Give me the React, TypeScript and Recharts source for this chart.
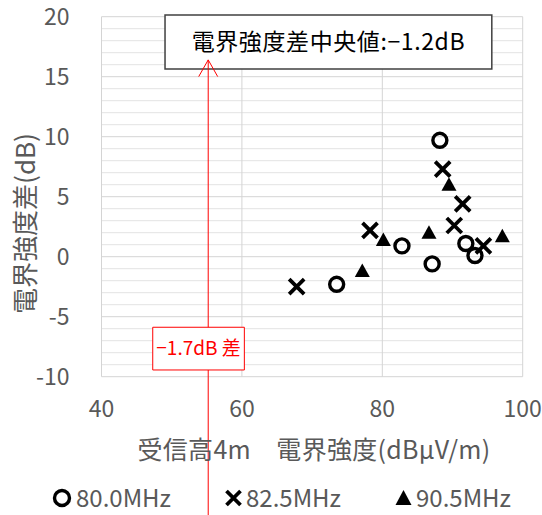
import React from 'react';
import {
  ScatterChart,
  Scatter,
  XAxis,
  YAxis,
  CartesianGrid,
  ReferenceArea,
  Legend,
  Label,
} from 'recharts';

// ---- data ----
const xTicks = [40, 60, 80, 100];
const yTicks = [-10, -5, 0, 5, 10, 15, 20];
const yMinorTicks = [
  -9, -8, -7, -6, -4, -3, -2, -1, 1, 2, 3, 4, 6, 7, 8, 9,
  11, 12, 13, 14, 16, 17, 18, 19,
];

const seriesNames = ['80.0MHz', '82.5MHz', '90.5MHz'];

const s800x = [88.2, 82.8, 87.1, 73.5, 91.9, 93.2];
const s800y = [9.7, 0.9, -0.6, -2.3, 1.1, 0.1];

const s825x = [88.6, 91.45, 90.25, 78.25, 67.8, 94.4];
const s825y = [7.3, 4.4, 2.6, 2.2, -2.5, 0.9];

const s905x = [89.5, 80.15, 86.65, 77.15, 97.1];
const s905y = [6.0, 1.4, 2.0, -1.2, 1.7];

const xTitle = '受信高4m\u3000電界強度(dBμV/m)';
const yTitle = '電界強度差(dB)';
const medianText = '電界強度差中央値:\u22121.2dB';
const diffText = '\u22121.7dB 差';

// annotation anchors (data units)
const markerX = 55.2;
const arrowTopY = 16.4;
const lineBottomY = -21.6;
const medianBox = { x1: 49.05, x2: 95.6, y1: 15.64, y2: 20.14 };
const diffBox = { x1: 47.3, x2: 60.35, y1: -9.44, y2: -5.88 };

const toPoints = (xs: number[], ys: number[]) => xs.map((x, i) => ({ x, y: ys[i] }));
const data800 = toPoints(s800x, s800y);
const data825 = toPoints(s825x, s825y);
const data905 = toPoints(s905x, s905y);

// ---- styles ----
const FONT = "'Noto Sans CJK JP', 'Noto Sans', sans-serif";
const GRAY = '#595959';
const RED = '#ff0000';

const CircleShape = (p: any) => (
  <circle cx={p.cx} cy={p.cy} r={7} fill="none" stroke="#000" strokeWidth={3.4} />
);
const CrossShape = (p: any) => (
  <path
    d={`M${p.cx - 7.5},${p.cy - 7.5}L${p.cx + 7.5},${p.cy + 7.5}M${p.cx + 7.5},${p.cy - 7.5}L${p.cx - 7.5},${p.cy + 7.5}`}
    stroke="#000"
    strokeWidth={3.8}
    fill="none"
  />
);
const TriShape = (p: any) => (
  <path d={`M${p.cx},${p.cy - 7.5}L${p.cx + 7.5},${p.cy + 6}L${p.cx - 7.5},${p.cy + 6}Z`} fill="#000" />
);

// vertical red arrow drawn as a zero-width reference area
const ArrowShape = (p: any) => {
  const x = p.x;
  const top = Math.min(p.y, p.y + p.height);
  const bottom = Math.max(p.y, p.y + p.height);
  return (
    <g>
      <line x1={x} y1={top} x2={x} y2={bottom} stroke={RED} strokeWidth={1} />
      <path
        d={`M${x - 9.5},${top + 16.7}L${x},${top}L${x + 9.5},${top + 16.7}`}
        stroke={RED}
        strokeWidth={1}
        fill="none"
      />
    </g>
  );
};

const legendMarkers = [
  (cx: number, cy: number) => <circle cx={cx} cy={cy} r={7.5} fill="none" stroke="#000" strokeWidth={3.4} />,
  (cx: number, cy: number) => (
    <path
      d={`M${cx - 7},${cy - 7}L${cx + 7},${cy + 7}M${cx + 7},${cy - 7}L${cx - 7},${cy + 7}`}
      stroke="#000"
      strokeWidth={3.8}
    />
  ),
  (cx: number, cy: number) => <path d={`M${cx},${cy - 8}L${cx + 8},${cy + 7}L${cx - 8},${cy + 7}Z`} fill="#000" />,
];
const legendMarkerX = [62, 233.5, 403.5];
const legendTextX = [76, 246, 416];

const LegendContent = () => (
  <svg width={542} height={36} style={{ display: 'block', overflow: 'visible' }}>
    {seriesNames.map((name, i) => (
      <g key={name}>
        {legendMarkers[i](legendMarkerX[i], 18)}
        <text x={legendTextX[i]} y={18} dy="0.36em" fill={GRAY} fontSize={24} fontFamily={FONT}>
          {name}
        </text>
      </g>
    ))}
  </svg>
);

export default function App() {
  return (
    <div style={{ width: 542, height: 515, background: '#fff', position: 'relative' }}>
      <style>{'body{margin:0}'}</style>
      <ScatterChart width={542} height={515} margin={{ top: 16.7, right: 19.3, bottom: 0, left: 0 }}>
        <CartesianGrid
          vertical={false}
          stroke="#e3e3e3"
          strokeWidth={1}
          horizontalValues={yMinorTicks}
          syncWithTicks
        />
        <CartesianGrid stroke="#d4d4d4" strokeWidth={1} />
        <XAxis
          dataKey="x"
          type="number"
          domain={[40, 100]}
          ticks={xTicks}
          interval={0}
          axisLine={false}
          tickLine={false}
          tickSize={0}
          tickMargin={24}
          height={138.3}
          tick={{ fill: GRAY, fontSize: 23, fontFamily: FONT }}
        >
          <Label
            content={() => (
              <text x={314} y={450} dy="0.36em" textAnchor="middle" fill={GRAY} fontSize={25} fontFamily={FONT} letterSpacing={0.3}>
                {xTitle}
              </text>
            )}
          />
        </XAxis>
        <YAxis
          dataKey="y"
          type="number"
          domain={[-10, 20]}
          ticks={yTicks}
          interval={0}
          axisLine={false}
          tickLine={false}
          tickSize={0}
          tickMargin={32}
          width={101.5}
          tick={{ fill: GRAY, fontSize: 23, fontFamily: FONT }}
        >
          <Label
            content={() => (
              <text
                x={25.5}
                y={223.5}
                dy="0.36em"
                textAnchor="middle"
                transform="rotate(-90 25.5 223.5)"
                fill={GRAY}
                fontSize={26}
                fontFamily={FONT}
              >
                {yTitle}
              </text>
            )}
          />
        </YAxis>
        <Legend
          layout="horizontal"
          verticalAlign="middle"
          align="center"
          content={<LegendContent />}
          wrapperStyle={{ top: 480, left: 0, width: 542, height: 36 }}
        />
        <ReferenceArea
          {...medianBox}
          ifOverflow="visible"
          fill="#ffffff"
          fillOpacity={1}
          stroke="#404040"
          strokeWidth={1.5}
          label={
            <Label
              position="center"
              content={(props: any) => {
                const vb = props.viewBox;
                return (
                  <text
                    x={vb.x + vb.width / 2}
                    y={vb.y + vb.height / 2}
                    dy="0.36em"
                    textAnchor="middle"
                    fill="#000"
                    fontSize={23}
                    letterSpacing={0.6}
                    fontFamily={FONT}
                  >
                    {medianText}
                  </text>
                );
              }}
            />
          }
        />
        <ReferenceArea
          x1={markerX}
          x2={markerX}
          y1={lineBottomY}
          y2={arrowTopY}
          ifOverflow="visible"
          shape={ArrowShape}
        />
        <ReferenceArea
          {...diffBox}
          ifOverflow="visible"
          fill="#ffffff"
          fillOpacity={1}
          stroke={RED}
          strokeWidth={1}
          label={
            <Label
              position="center"
              content={(props: any) => {
                const vb = props.viewBox;
                return (
                  <text
                    x={vb.x + vb.width / 2}
                    y={vb.y + vb.height / 2}
                    dy="0.36em"
                    textAnchor="middle"
                    fill={RED}
                    fontSize={19}
                    fontFamily={FONT}
                  >
                    {diffText}
                  </text>
                );
              }}
            />
          }
        />
        <Scatter name={seriesNames[0]} data={data800} shape={CircleShape} isAnimationActive={false} />
        <Scatter name={seriesNames[1]} data={data825} shape={CrossShape} isAnimationActive={false} />
        <Scatter name={seriesNames[2]} data={data905} shape={TriShape} isAnimationActive={false} />
      </ScatterChart>
    </div>
  );
}
